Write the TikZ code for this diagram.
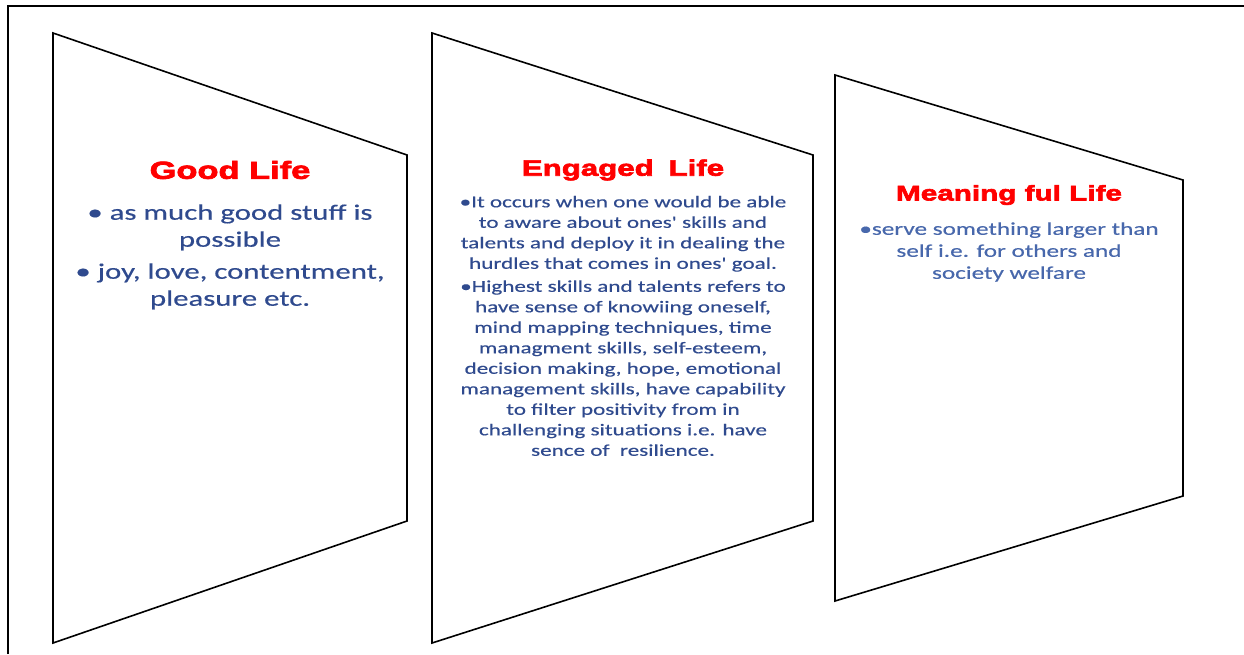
\documentclass[tikz,border=0pt]{standalone}
\usepackage{fontspec}
\usetikzlibrary{positioning}

\newfontfamily\headfont{Liberation Sans}[FakeStretch=1.4,FakeBold=3]
\newfontfamily\bodyfont{Carlito}[FakeStretch=1.4,FakeBold=0.4]

\definecolor{headred}{RGB}{255,0,0}
\definecolor{textblue}{RGB}{47,74,142}
\definecolor{paleblue}{RGB}{72,104,172}

\tikzset{
  panel/.style={draw=black, line width=1.6pt, line join=miter, fill=white},
  head/.style={text=headred, font=\headfont\bfseries\fontsize{#1}{28}\selectfont, inner sep=0pt},
  head/.default=22,
  points/.style={align=center, inner sep=0pt, text=textblue}
}

\begin{document}
\begin{tikzpicture}[x=1pt, y=-1pt]
  \useasboundingbox (0,0) rectangle (1244,654);

  % Frame round the slide
  \draw[line width=2pt] (7.5,654) -- (7.5,5.5) -- (1244,5.5);

  % The three panels, seen at a slant
  \draw[panel] (53,33) -- (407,155) -- (407,521) -- (53,643) -- cycle;
  \draw[panel] (432,33) -- (813,155) -- (813,521) -- (432,643) -- cycle;
  \draw[panel] (835,75) -- (1183,180) -- (1183,496) -- (835,601) -- cycle;

  % Good life
  \node[head=24.6] (good) at (230,170) {Good Life};
  \node[points, below=25pt of good, font=\bodyfont\fontsize{22}{27}\selectfont] (goodpts)
    {\textbullet\ as much good stuff is\\possible\\[5pt]
     \textbullet\ joy, love, contentment,\\pleasure etc.};

  % Engaged life
  \node[head=22.3] (engaged) at (623,170) {Engaged\enspace\,Life};
  \node[points, below=15pt of engaged, font=\bodyfont\fontsize{16.5}{20.5}\selectfont] (engagedpts)
    {\textbullet It occurs when one would be able\\
     to aware about ones' skills and\\
     talents and deploy it in dealing the\\
     hurdles that comes in ones' goal.\\[2.5pt]
     \textbullet Highest skills and talents refers to\\
     have sense of knowiing oneself,\\
     mind mapping techniques, time\\
     managment skills, self-esteem,\\
     decision making, hope, emotional\\
     management skills, have capability\\
     to filter positivity from in\\
     challenging situations i.e. have\\
     sence of\ \ resilience.};

  % Meaningful life
  \node[head=21.2] (meaning) at (1009,195) {Meaning ful Life};
  \node[points, below=17pt of meaning, text=paleblue, font=\bodyfont\fontsize{18}{22}\selectfont] (meaningpts)
    {\textbullet serve something larger than\\
     self i.e. for others and\\
     society welfare};
\end{tikzpicture}
\end{document}
